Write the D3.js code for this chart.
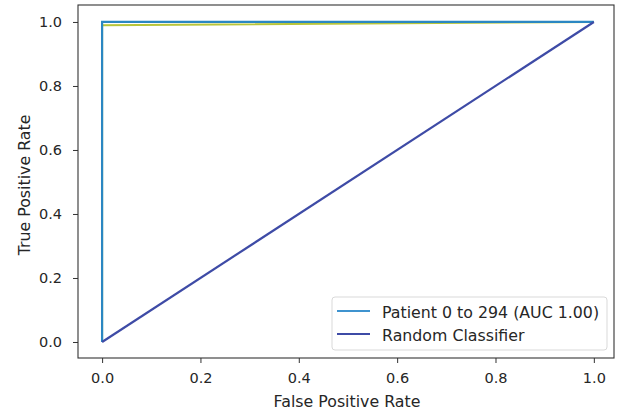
<!DOCTYPE html>
<html>
<head>
<meta charset="utf-8">
<script src="https://cdn.jsdelivr.net/npm/d3@7"></script>
<style>
  body { margin: 0; background: #fff; }
  text { font-family: "DejaVu Sans", sans-serif; fill: #262626; }
</style>
</head>
<body>
<div id="chart"></div>
<script>
// ROC data
const patientFpr = [0, 0, 1];
const patientTpr = [0, 1, 1];
const innerFpr = [0, 0, 1];
const innerTpr = [0, 0.99, 1];
const randomFpr = [0, 1];
const randomTpr = [0, 1];
const tickValues = [0, 0.2, 0.4, 0.6, 0.8, 1.0];
const legendLabels = ["Patient 0 to 294 (AUC 1.00)", "Random Classifier"];
const legendColors = ["#3f93cf", "#3e4ba6"];

const width = 621;
const height = 414;
const plot = {l: 78, r: 614, t: 5, b: 358};

const svg = d3.select("#chart")
    .append("svg")
    .attr("width", width)
    .attr("height", height)
    .attr("viewBox", [0, 0, width, height]);

const xScale = d3.scaleLinear()
    .domain([-0.049, 1.041])
    .range([plot.l, plot.r]);
const yScale = d3.scaleLinear()
    .domain([-0.05, 1.053])
    .range([plot.b, plot.t]);

const toPoints = (xs, ys) => xs.map((x, i) => ({x: x, y: ys[i]}));
const makeLine = d3.line()
    .x(d => xScale(d.x))
    .y(d => yScale(d.y));

//lines
svg.append("path")
    .attr("fill", "none")
    .attr("stroke", "#b8c53a")
    .attr("stroke-width", 2)
    .attr("d", makeLine(toPoints(innerFpr, innerTpr)));

svg.append("path")
    .attr("fill", "none")
    .attr("stroke", "#2b87c2")
    .attr("stroke-width", 2.2)
    .attr("d", makeLine(toPoints(patientFpr, patientTpr)));

svg.append("path")
    .attr("fill", "none")
    .attr("stroke", legendColors[1])
    .attr("stroke-width", 2.2)
    .attr("d", makeLine(toPoints(randomFpr, randomTpr)));

//frame
svg.append("rect")
    .attr("x", plot.l)
    .attr("y", plot.t)
    .attr("width", plot.r - plot.l)
    .attr("height", plot.b - plot.t)
    .attr("fill", "none")
    .attr("stroke", "#333")
    .attr("stroke-width", 1.1);

//axes
const xAxis = d3.axisBottom(xScale)
    .tickValues(tickValues)
    .tickFormat(d3.format(".1f"))
    .tickSize(5)
    .tickPadding(10);
const gx = svg.append("g")
    .attr("transform", `translate(0, ${plot.b})`)
    .call(xAxis);

const yAxis = d3.axisLeft(yScale)
    .tickValues(tickValues)
    .tickFormat(d3.format(".1f"))
    .tickSize(5)
    .tickPadding(11);
const gy = svg.append("g")
    .attr("transform", `translate(${plot.l}, 0)`)
    .call(yAxis);

[gx, gy].forEach(g => {
    g.select(".domain").remove();
    g.selectAll(".tick line").attr("stroke", "#333");
    g.selectAll(".tick text")
        .attr("font-size", "14.5px")
        .attr("font-family", "DejaVu Sans, sans-serif")
        .attr("fill", "#262626");
});

svg.append("text")
    .attr("x", (plot.l + plot.r) / 2 + 1)
    .attr("y", 407)
    .attr("text-anchor", "middle")
    .attr("font-size", "15.8px")
    .text("False Positive Rate");

svg.append("text")
    .attr("transform", "rotate(-90)")
    .attr("x", -185)
    .attr("y", 30)
    .attr("text-anchor", "middle")
    .attr("font-size", "15.8px")
    .text("True Positive Rate");

//legend
const legend = svg.append("g");
legend.append("rect")
    .attr("x", 332)
    .attr("y", 297)
    .attr("width", 275)
    .attr("height", 53)
    .attr("rx", 3)
    .attr("fill", "#fff")
    .attr("fill-opacity", 0.8)
    .attr("stroke", "#d9d9d9");

legendLabels.forEach((label, i) => {
    const y = 311 + i * 23;
    legend.append("line")
        .attr("x1", 337)
        .attr("x2", 370)
        .attr("y1", y)
        .attr("y2", y)
        .attr("stroke", legendColors[i])
        .attr("stroke-width", 2.2);
    legend.append("text")
        .attr("x", 382)
        .attr("y", y + 7)
        .attr("font-size", "15.8px")
        .text(label);
});
</script>
</body>
</html>
